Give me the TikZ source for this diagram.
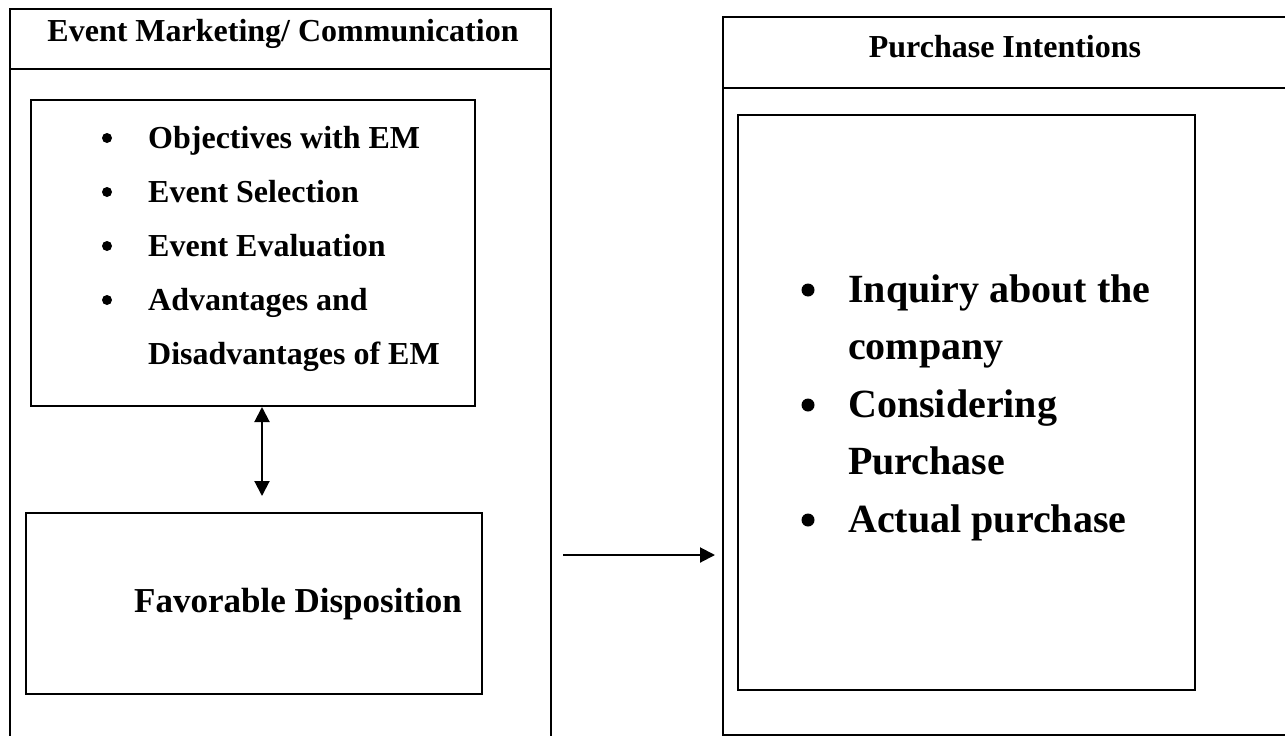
\documentclass[tikz,border=0pt]{standalone}
\usepackage{fontspec}
\setmainfont{Liberation Serif}
\usetikzlibrary{arrows.meta}
\begin{document}
\begin{tikzpicture}[x=1pt,y=-1pt,
  frame/.style={draw=black,line width=2pt},
  boxnode/.style={draw=black,line width=2pt,inner sep=0pt,anchor=north west},
  lt/.style={font=\fontsize{32}{32}\selectfont\bfseries,anchor=base west,inner sep=0pt},
  rt/.style={font=\fontsize{40}{40}\selectfont\bfseries,anchor=base west,inner sep=0pt},
  hd/.style={font=\fontsize{32}{32}\selectfont\bfseries,anchor=base,inner sep=0pt},
  dotl/.style={circle,fill=black,inner sep=0pt,minimum size=10pt},
  dotr/.style={circle,fill=black,inner sep=0pt,minimum size=13pt},
  arr/.style={line width=2pt,-{Triangle[length=15pt,width=15pt]}},
  darr/.style={line width=2pt,{Triangle[length=15pt,width=15pt]}-{Triangle[length=15pt,width=15pt]}}]
\useasboundingbox (0,0) rectangle (1285,736);
% outer frames
\draw[frame] (10,736) -- (10,9) -- (551,9) -- (551,736);
\draw[frame] (10,69) -- (551,69);
\draw[frame] (1285,17) -- (723,17) -- (723,735) -- (1285,735);
\draw[frame] (723,88) -- (1285,88);
% headers
\node[hd] (hl) at (283,41) {Event Marketing/ Communication};
\node[hd] (hr) at (1005,57) {Purchase Intentions};
% inner boxes
\node[boxnode,minimum width=444pt,minimum height=306pt] (b1) at (30,99) {};
\node[boxnode,minimum width=456pt,minimum height=181pt] (b2) at (25,512) {};
\node[boxnode,minimum width=457pt,minimum height=575pt] (b3) at (737,114) {};
% left bullets
\foreach \yy/\txt [count=\i] in {148/Objectives with EM,202/Event Selection,256/Event Evaluation,310/Advantages and}{
  \node[dotl] (lb\i) at (107,\yy-10) {};
  \node[lt] (lx\i) at (148,\yy) {\txt};
}
\node[lt] (lx5) at (148,364) {Disadvantages of EM};
% favorable
\node[font=\fontsize{35}{35}\selectfont\bfseries,anchor=base,inner sep=0pt] (fav) at (298,612) {Favorable Disposition};
% right bullets
\node[dotr] (rb1) at (808,290) {};
\node[rt] (rx1) at (848,302) {Inquiry about the};
\node[rt] (rx2) at (848,359) {company};
\node[dotr] (rb2) at (808,405) {};
\node[rt] (rx3) at (848,417) {Considering};
\node[rt] (rx4) at (848,474) {Purchase};
\node[dotr] (rb3) at (808,520) {};
\node[rt] (rx5) at (848,532) {Actual purchase};
% connectors
\coordinate (d1) at (262,496);
\draw[darr] (b1.south -| d1) -- (d1);
\coordinate (h1) at (563,555);
\coordinate (h2) at (715,555);
\draw[arr] (h1) -- (h2);
\end{tikzpicture}
\end{document}
